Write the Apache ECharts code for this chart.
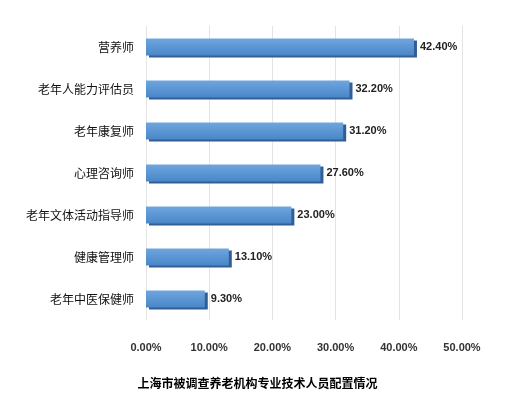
<!DOCTYPE html>
<html><head><meta charset="utf-8">
<script src="https://cdn.jsdelivr.net/npm/echarts@6/dist/echarts.min.js"></script>
<style>html,body{margin:0;background:#fff}#c{width:515px;height:407px}</style>
</head><body><div id="c"></div>
<script>
const categories = ['老年中医保健师','健康管理师','老年文体活动指导师','心理咨询师','老年康复师','老年人能力评估员','营养师'];
const values = [9.3, 13.1, 23.0, 27.6, 31.2, 32.2, 42.4];
const chartTitle = '上海市被调查养老机构专业技术人员配置情况';
const chart = echarts.init(document.getElementById('c'));
chart.setOption({
  animation:false,
  title:{text:chartTitle,left:'center',top:372,textStyle:{fontSize:12,fontWeight:'bold',color:'#000',fontFamily:'Noto Sans CJK SC'}},
  grid:{left:146,right:53,top:26,bottom:87},
  xAxis:{type:'value',min:0,max:50,interval:10,
    axisLabel:{formatter:v=>v.toFixed(2)+'%',fontWeight:'bold',color:'#333',fontSize:11,margin:22},
    axisLine:{show:false},axisTick:{show:false},
    splitLine:{lineStyle:{color:'#e4e4e4'}}},
  yAxis:{type:'category',data:categories,
    axisLabel:{color:'#111',fontSize:12,fontFamily:'Noto Sans CJK SC',margin:12},
    axisLine:{show:false},axisTick:{show:false}},
  series:[{type:'bar',data:values,barWidth:17,
    itemStyle:{color:new echarts.graphic.LinearGradient(0,0,0,1,[{offset:0,color:'#6ea6de'},{offset:1,color:'#4a86c8'}]),
      shadowColor:'#2f5f95',shadowOffsetX:3,shadowOffsetY:2,shadowBlur:0},
    label:{show:true,position:'right',distance:6,formatter:p=>p.value.toFixed(2)+'%',fontWeight:'bold',fontSize:11,color:'#222'}}]
});
</script></body></html>
